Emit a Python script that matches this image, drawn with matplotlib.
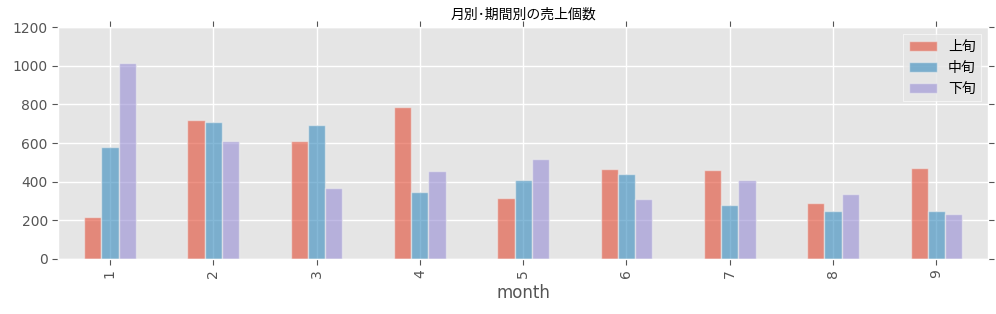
import pandas as pd
import numpy as np
import matplotlib
matplotlib.use('Agg')
import matplotlib.pyplot as plt

plt.style.use('ggplot')
plt.rcParams['font.family'] = ['DejaVu Sans', 'Noto Sans CJK JP']

# 月別・期間別の売上個数
months = [1, 2, 3, 4, 5, 6, 7, 8, 9]
jojun = [214, 721, 612, 789, 313, 463, 458, 288, 468]   # 上旬
chujun = [577, 711, 696, 344, 406, 439, 277, 246, 246]  # 中旬
gejun = [1016, 608, 365, 453, 515, 308, 406, 334, 230]  # 下旬

df = pd.DataFrame({'上旬': jojun, '中旬': chujun, '下旬': gejun},
                  index=pd.Index(months, name='month'))

fig, ax = plt.subplots(figsize=(9.96, 3.14), dpi=100)
fig.subplots_adjust(left=0.0585, right=0.992, bottom=0.176, top=0.913)

df.plot(kind='bar', ax=ax, color=['#E24A33', '#348ABD', '#988ED5'],
        alpha=0.6, edgecolor='#EEEEEE', linewidth=1.0)

ax.set_ylim(0, 1200)
ax.set_yticks(np.arange(0, 1201, 200))
ax.set_title('月別･期間別の売上個数', fontsize=10, color='black',
             family=['Noto Sans CJK JP', 'DejaVu Sans'])
ax.set_xlabel('month', fontsize=12, color='#555555')
ax.tick_params(axis='both', which='major', direction='out', length=4,
               color='#555555', labelcolor='#555555', labelsize=10,
               top=True, right=True)
ax.tick_params(axis='x', labelrotation=90)
ax.grid(True, color='white', linewidth=1.0)
ax.set_axisbelow(True)

leg = ax.legend(loc='upper right', prop={'family': ['Noto Sans CJK JP'], 'size': 10},
                frameon=True, fancybox=False)
leg.get_frame().set_facecolor('#E5E5E5')
leg.get_frame().set_edgecolor('white')
for t in leg.get_texts():
    t.set_color('black')

plt.savefig('out.png', dpi=100)
